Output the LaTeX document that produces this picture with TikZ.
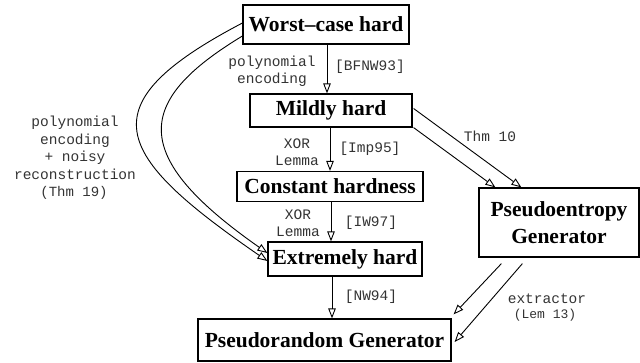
\documentclass[tikz,border=0pt]{standalone}
\usepackage{fontspec}
\setmainfont{Liberation Serif}
\setmonofont{Liberation Mono}
\usetikzlibrary{arrows.meta,calc}
\begin{document}
\begin{tikzpicture}[x=1pt,y=-1pt,
  box/.style={draw, line width=1.2pt, inner sep=0pt, align=center,
    font=\bfseries\fontsize{21.5}{27}\selectfont},
  lab/.style={inner sep=0pt, align=center, text=black!80,
    font=\ttfamily\fontsize{14.5}{17.5}\selectfont},
  arr/.style={line width=0.9pt, -{Triangle[open, length=10pt, width=7.5pt]}}]
\useasboundingbox (0,0) rectangle (640,362);
% boxes
\node[box, minimum width=166pt, minimum height=39pt] (W) at (326,24.5) {Worst--case hard};
\node[box, minimum width=162pt, minimum height=33pt] (M) at (331,110.5) {Mildly hard};
\node[box, minimum width=186pt, minimum height=30pt] (C) at (330,186.5) {Constant hardness};
\node[box, minimum width=154pt, minimum height=34pt] (E) at (345,259) {Extremely hard};
\node[box, minimum width=253pt, minimum height=42pt] (P) at (324.5,340) {Pseudorandom Generator};
\node[box, minimum width=160pt, minimum height=69pt, text depth=0pt] (H) at (559,222.5) {Pseudoentropy\\Generator};
% labels
\node[lab] (l1) at (272,71) {polynomial\\encoding};
\node[lab] (l2) at (370,67) {[BFNW93]};
\node[lab] (l3) at (297,152) {XOR\\Lemma};
\node[lab] (l4) at (370,149) {[Imp95]};
\node[lab] (l5) at (298,223) {XOR\\Lemma};
\node[lab] (l6) at (371,223) {[IW97]};
\node[lab] (l7) at (371,297) {[NW94]};
\node[lab] (l8) at (490,136) {Thm 10};
\node[lab] (l9) at (547,299) {extractor};
\node[lab, font=\ttfamily\fontsize{13}{15}\selectfont] (l10) at (545,315) {(Lem 13)};
\node[lab] (l11) at (75,148) {polynomial\\encoding\\+ noisy\\reconstruction};
\node[lab, font=\ttfamily\fontsize{14}{16}\selectfont] (l12) at (74,193) {(Thm 19)};
% vertical arrows
\draw[arr] ([xshift=1pt]W.south) -- ([xshift=1pt]W.south |- M.north);
\draw[arr] ([xshift=-1pt]M.south) -- ([xshift=-1pt]M.south |- C.north);
\draw[arr] ([xshift=1pt]C.south) -- ([xshift=1pt]C.south |- E.north);
\draw[arr] ([xshift=-13pt]E.south) -- ([xshift=-13pt]E.south |- P.north);
% Thm 10
\draw[arr] ([shift={(1pt,2pt)}]M.east) -- ([xshift=43pt]H.north west);
\draw[arr] ([xshift=1pt]M.south east) -- ([xshift=17pt]H.north west);
% extractor
\draw[arr] ([shift={(23pt,-6pt)}]H.south west) -- ([shift={(2pt,4pt)}]P.north east);
\draw[arr] ([shift={(44pt,-6pt)}]H.south west) -- ([shift={(3pt,-2pt)}]P.east);
% curved arrows
\draw[arr] ([yshift=1.5pt]W.west) .. controls (86,105) and (112,154) .. ([yshift=-2pt]E.west);
\draw[arr] ([yshift=-11.5pt]W.west) .. controls (135,101) and (128,155.5) .. ([yshift=6pt]E.west);
\end{tikzpicture}
\end{document}
